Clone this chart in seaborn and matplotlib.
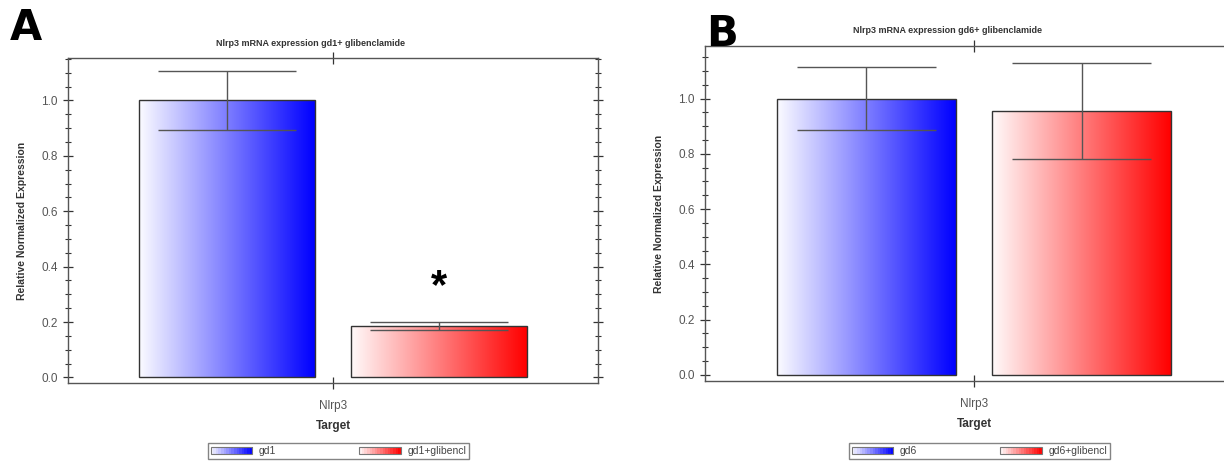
import numpy as np
import pandas as pd
import matplotlib
matplotlib.use("Agg")
import matplotlib.pyplot as plt
import matplotlib.patches as mpatches
from matplotlib.legend_handler import HandlerBase
from matplotlib.colors import LinearSegmentedColormap
import seaborn as sns

# ---- data -------------------------------------------------------------
target = "Nlrp3"

groups_a = ["gd1", "gd1+glibencl"]
expr_a = [1.00, 0.186]
err_a = [0.106, 0.013]
title_a = "Nlrp3 mRNA expression gd1+ glibenclamide"

groups_b = ["gd6", "gd6+glibencl"]
expr_b = [1.00, 0.955]
err_b = [0.115, 0.175]
title_b = "Nlrp3 mRNA expression gd6+ glibenclamide"

bar_colors = ["#0000ff", "#ff0000"]

# ---- style ------------------------------------------------------------
sns.set_theme(style="white")
plt.rcParams["font.family"] = ["Liberation Sans", "DejaVu Sans"]

SPINE = "#555555"
TXT = "#555555"


def gradient_cmap(color):
    start = "#fbfbff" if color == "#0000ff" else "#fffafa"
    return LinearSegmentedColormap.from_list("g", [start, color])


class GradientHandler(HandlerBase):
    """Legend key drawn as a small left-to-right colour ramp."""

    def __init__(self, color):
        super().__init__()
        self.color = color

    def create_artists(self, legend, orig_handle, xdescent, ydescent,
                       width, height, fontsize, trans):
        cmap = gradient_cmap(self.color)
        n = 16
        artists = []
        for i in range(n):
            r = mpatches.Rectangle((-xdescent + width * i / n, -ydescent + height * 0.1),
                                   width / n + 0.2, height * 0.8,
                                   facecolor=cmap((i + 0.5) / n), edgecolor="none",
                                   transform=trans)
            artists.append(r)
        frame = mpatches.Rectangle((-xdescent, -ydescent + height * 0.1), width, height * 0.8,
                                   facecolor="none", edgecolor="#777777", lw=0.8,
                                   transform=trans)
        artists.append(frame)
        return artists


def draw_panel(ax, groups, values, errors, title, title_x, ylim):
    df = pd.DataFrame({"Target": [target] * len(groups),
                       "Group": groups,
                       "Expression": values})
    sns.barplot(data=df, x="Target", y="Expression", hue="Group",
                hue_order=groups, palette=bar_colors, errorbar=None,
                gap=0.17, width=0.8, ax=ax, legend=False,
                edgecolor="#333333", linewidth=1.0)

    bars = [p for p in ax.patches if isinstance(p, mpatches.Rectangle)]
    ax.set_xlim(-0.5, 0.5)
    ax.set_ylim(*ylim)

    # horizontal colour gradient inside each bar
    for bar, col in zip(bars, bar_colors):
        x0, y0 = bar.get_x(), bar.get_y()
        w, h = bar.get_width(), bar.get_height()
        grad = np.linspace(0, 1, 256).reshape(1, -1)
        im = ax.imshow(grad, cmap=gradient_cmap(col), aspect="auto",
                       extent=(x0, x0 + w, y0, y0 + h), zorder=bar.get_zorder(),
                       interpolation="bilinear")
        im.set_clip_path(bar)
        bar.set_facecolor("none")
        bar.set_zorder(bar.get_zorder() + 0.5)

    # error bars with wide caps
    for bar, v, e in zip(bars, values, errors):
        cx = bar.get_x() + bar.get_width() / 2
        half = bar.get_width() * 0.39
        ax.vlines(cx, v - e, v + e, color="#555555", lw=1.0, zorder=5)
        ax.hlines([v - e, v + e], cx - half, cx + half, color="#555555", lw=1.0, zorder=5)

    ax.set_xlim(-0.5, 0.5)
    ax.set_ylim(*ylim)

    # axes cosmetics
    for s in ax.spines.values():
        s.set_visible(True)
        s.set_color(SPINE)
        s.set_linewidth(1.0)
    ax.set_yticks([0.0, 0.2, 0.4, 0.6, 0.8, 1.0])
    ax.set_yticks(np.arange(0.0, ylim[1], 0.05), minor=True)
    ax.yaxis.set_major_formatter(matplotlib.ticker.FormatStrFormatter("%.1f"))
    ax.tick_params(axis="y", which="major", direction="inout", length=7, width=0.9,
                   color="#333333", labelsize=8.5, labelcolor=TXT, left=True, right=True, pad=4)
    ax.tick_params(axis="y", which="minor", direction="inout", length=4, width=0.8,
                   color="#333333", left=True, right=True)
    ax.tick_params(axis="x", which="major", direction="inout", length=8, width=0.9,
                   color="#333333", labelsize=8.5, labelcolor=TXT, bottom=True, top=True, pad=8)
    ax.set_xlabel("Target", fontsize=8.5, fontweight="bold", color="#333333", labelpad=6)
    ax.set_ylabel("Relative Normalized Expression", fontsize=7.5, fontweight="bold",
                  color="#333333", labelpad=10)
    ax.set_title(title, fontsize=6.5, fontweight="bold", color="#333333",
                 x=title_x, pad=9)

    handles = [mpatches.Patch(label=g) for g in groups]
    leg = ax.legend(handles, groups, loc="upper center", bbox_to_anchor=(0.51, -0.186),
                    ncol=2, frameon=True, fancybox=False, fontsize=7.5,
                    handler_map={handles[0]: GradientHandler(bar_colors[0]),
                                 handles[1]: GradientHandler(bar_colors[1])},
                    handlelength=4.0, handleheight=0.9, columnspacing=8,
                    borderpad=0.25, handletextpad=0.6, borderaxespad=0)
    leg.get_frame().set_edgecolor("#666666")
    leg.get_frame().set_linewidth(1.0)
    for t in leg.get_texts():
        t.set_color("#444444")
    return bars


fig = plt.figure(figsize=(12.24, 4.63), dpi=100)
W, H = 1224, 463

ax_a = fig.add_axes([68 / W, 1 - 383 / H, 530 / W, (383 - 58) / H])
ax_b = fig.add_axes([705 / W, 1 - 381 / H, 538 / W, (381 - 46) / H])

bars_a = draw_panel(ax_a, groups_a, expr_a, err_a, title_a, 0.457, (-0.02, 1.153))
draw_panel(ax_b, groups_b, expr_b, err_b, title_b, 0.45, (-0.022, 1.19))

# significance mark over the treated bar
red = bars_a[1]
ax_a.text(red.get_x() + red.get_width() / 2, expr_a[1] + 0.14, "*",
          fontsize=30, fontweight="bold", ha="center", va="center", color="black")

# panel letters
fig.text(10 / W, 1 - 40 / H, "A", fontsize=30, fontweight="bold", color="black",
         ha="left", va="baseline", family=["DejaVu Sans"])
fig.text(706 / W, 1 - 46 / H, "B", fontsize=30, fontweight="bold", color="black",
         ha="left", va="baseline", family=["DejaVu Sans"])

fig.savefig("out.png", dpi=100)
